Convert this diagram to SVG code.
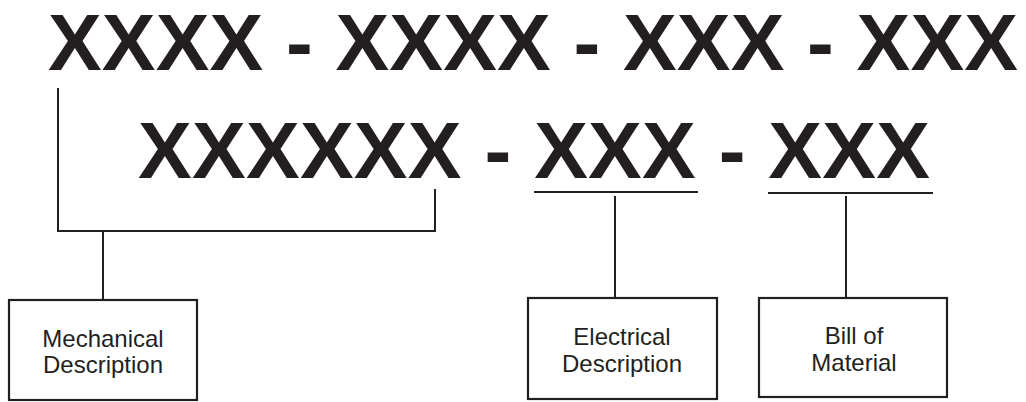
<svg xmlns="http://www.w3.org/2000/svg" width="1026" height="402" viewBox="0 0 1026 402">
<style>
.code{font-family:"Liberation Sans",Arial,sans-serif;font-weight:bold;font-size:80.5px;fill:#231f20}
.lbl{font-family:"Liberation Sans",Arial,sans-serif;font-size:24px;fill:#231f20;text-anchor:middle}
.ln{stroke:#231f20;stroke-width:2;fill:none}
.box{stroke:#231f20;stroke-width:2.2;fill:#fff}
</style>
<rect width="1026" height="402" fill="#fff"/>
<g id="codes">
<text class="code" x="48" y="70" textLength="970" lengthAdjust="spacing">XXXX - XXXX - XXX - XXX</text>
<text class="code" x="138" y="178" textLength="792" lengthAdjust="spacing">XXXXXX - XXX - XXX</text>
</g>
<g id="connectors">
<polyline class="ln" points="58,88 58,231 435,231 435,189"/>
<line class="ln" x1="103" y1="231" x2="103" y2="301"/>
<line class="ln" x1="534" y1="192" x2="698" y2="192"/>
<line class="ln" x1="615" y1="196" x2="615" y2="298"/>
<line class="ln" x1="768" y1="193" x2="933" y2="193"/>
<line class="ln" x1="846" y1="196" x2="846" y2="299"/>
</g>
<g id="mechanical">
<rect class="box" x="9" y="300" width="188" height="100"/>
<text class="lbl" x="103" y="347">Mechanical</text>
<text class="lbl" x="103" y="373">Description</text>
</g>
<g id="electrical">
<rect class="box" x="528" y="298" width="189" height="101"/>
<text class="lbl" x="622" y="345">Electrical</text>
<text class="lbl" x="622" y="372">Description</text>
</g>
<g id="bom">
<rect class="box" x="759" y="298" width="188" height="99"/>
<text class="lbl" x="854" y="344">Bill of</text>
<text class="lbl" x="854" y="371">Material</text>
</g>
</svg>
